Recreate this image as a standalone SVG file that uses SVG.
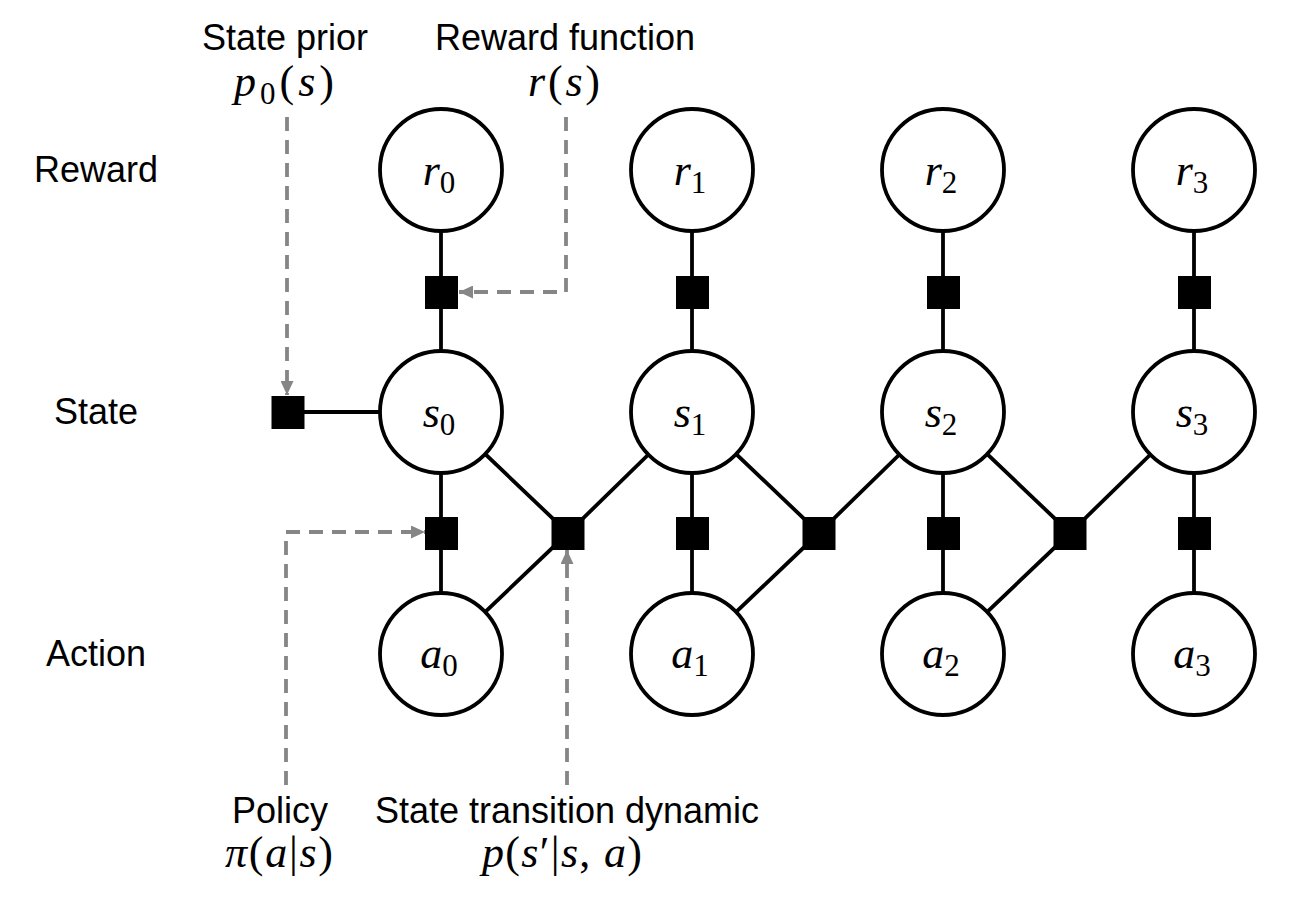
<svg xmlns="http://www.w3.org/2000/svg" width="1302" height="914" viewBox="0 0 1302 914">
<defs>
<style>
.lbl{font-family:"Liberation Sans",Arial,sans-serif;font-size:36px;fill:#000;text-anchor:middle}
.math{font-family:"Liberation Serif","Times New Roman",serif;font-size:44px;fill:#000;text-anchor:middle}
.it{font-style:italic}
.sub{font-size:31px;font-style:normal}
.node{fill:#fff;stroke:#000;stroke-width:3.8}
.factor{fill:#000}
.edge{stroke:#000;stroke-width:3.8;fill:none}
.dash{stroke:#868686;stroke-width:3.8;fill:none;stroke-dasharray:14 9;marker-end:url(#arr)}
</style>
<marker id="arr" markerUnits="userSpaceOnUse" markerWidth="14" markerHeight="13" refX="14" refY="6.5" orient="auto">
<path d="M0,0 L14,6.5 L0,13 z" fill="#868686"/>
</marker>
</defs>
<rect width="1302" height="914" fill="#fff"/>

<g id="row-labels">
<text class="lbl" x="96" y="182">Reward</text>
<text class="lbl" x="96" y="424">State</text>
<text class="lbl" x="96" y="666">Action</text>
</g>

<g id="connectors">
<line class="edge" x1="441" y1="170" x2="441" y2="654"/>
<line class="edge" x1="692" y1="170" x2="692" y2="654"/>
<line class="edge" x1="943" y1="170" x2="943" y2="654"/>
<line class="edge" x1="1194" y1="170" x2="1194" y2="654"/>
<line class="edge" x1="288" y1="412" x2="441" y2="412"/>
<path class="edge" d="M441,412 L568,533 L692,412 M441,654 L568,533"/>
<path class="edge" d="M692,412 L819,533 L943,412 M692,654 L819,533"/>
<path class="edge" d="M943,412 L1070,533 L1194,412 M943,654 L1070,533"/>
<path class="dash" d="M287,117 V395"/>
<path class="dash" d="M566,117 V292 H459"/>
<path class="dash" d="M286,785 V532 H425"/>
<path class="dash" d="M567,785 V550"/>
</g>

<g id="factors">
<rect id="f-prior" class="factor" x="271.5" y="396" width="33" height="33"/>
<rect id="f-r0" class="factor" x="425" y="276" width="33" height="33"/>
<rect id="f-r1" class="factor" x="676" y="276" width="33" height="33"/>
<rect id="f-r2" class="factor" x="927" y="276" width="33" height="33"/>
<rect id="f-r3" class="factor" x="1178" y="276" width="33" height="33"/>
<rect id="f-a0" class="factor" x="425" y="517" width="33" height="33"/>
<rect id="f-a1" class="factor" x="676" y="517" width="33" height="33"/>
<rect id="f-a2" class="factor" x="927" y="517" width="33" height="33"/>
<rect id="f-a3" class="factor" x="1178" y="517" width="33" height="33"/>
<rect id="f-t0" class="factor" x="551.5" y="517" width="33" height="33"/>
<rect id="f-t1" class="factor" x="802.5" y="517" width="33" height="33"/>
<rect id="f-t2" class="factor" x="1053.5" y="517" width="33" height="33"/>
</g>

<g id="node-r0"><circle class="node" cx="441" cy="170" r="61"/><text class="math" x="439" y="185"><tspan class="it">r</tspan><tspan class="sub" dy="8">0</tspan></text></g>
<g id="node-r1"><circle class="node" cx="692" cy="170" r="61"/><text class="math" x="690" y="185"><tspan class="it">r</tspan><tspan class="sub" dy="8">1</tspan></text></g>
<g id="node-r2"><circle class="node" cx="943" cy="170" r="61"/><text class="math" x="941" y="185"><tspan class="it">r</tspan><tspan class="sub" dy="8">2</tspan></text></g>
<g id="node-r3"><circle class="node" cx="1194" cy="170" r="61"/><text class="math" x="1192" y="185"><tspan class="it">r</tspan><tspan class="sub" dy="8">3</tspan></text></g>

<g id="node-s0"><circle class="node" cx="441" cy="412" r="61"/><text class="math" x="439" y="427"><tspan class="it">s</tspan><tspan class="sub" dy="8">0</tspan></text></g>
<g id="node-s1"><circle class="node" cx="692" cy="412" r="61"/><text class="math" x="690" y="427"><tspan class="it">s</tspan><tspan class="sub" dy="8">1</tspan></text></g>
<g id="node-s2"><circle class="node" cx="943" cy="412" r="61"/><text class="math" x="941" y="427"><tspan class="it">s</tspan><tspan class="sub" dy="8">2</tspan></text></g>
<g id="node-s3"><circle class="node" cx="1194" cy="412" r="61"/><text class="math" x="1192" y="427"><tspan class="it">s</tspan><tspan class="sub" dy="8">3</tspan></text></g>

<g id="node-a0"><circle class="node" cx="441" cy="654" r="61"/><text class="math" x="439" y="668"><tspan class="it">a</tspan><tspan class="sub" dy="8">0</tspan></text></g>
<g id="node-a1"><circle class="node" cx="692" cy="654" r="61"/><text class="math" x="690" y="668"><tspan class="it">a</tspan><tspan class="sub" dy="8">1</tspan></text></g>
<g id="node-a2"><circle class="node" cx="943" cy="654" r="61"/><text class="math" x="941" y="668"><tspan class="it">a</tspan><tspan class="sub" dy="8">2</tspan></text></g>
<g id="node-a3"><circle class="node" cx="1194" cy="654" r="61"/><text class="math" x="1192" y="668"><tspan class="it">a</tspan><tspan class="sub" dy="8">3</tspan></text></g>

<g id="label-prior">
<text class="lbl" x="285" y="50">State prior</text>
<text class="math" x="284" y="96" textLength="100" lengthAdjust="spacing"><tspan class="it">p</tspan><tspan class="sub" dy="8">0</tspan><tspan dy="-8">(</tspan><tspan class="it">s</tspan>)</text>
</g>
<g id="label-reward">
<text class="lbl" x="565" y="50">Reward function</text>
<text class="math" x="564" y="96" textLength="72" lengthAdjust="spacing"><tspan class="it">r</tspan>(<tspan class="it">s</tspan>)</text>
</g>
<g id="label-policy">
<text class="lbl" x="280" y="823">Policy</text>
<text class="math" x="279" y="867" textLength="108" lengthAdjust="spacing"><tspan class="it">π</tspan>(<tspan class="it">a</tspan>|<tspan class="it">s</tspan>)</text>
</g>
<g id="label-transition">
<text class="lbl" x="567" y="823">State transition dynamic</text>
<text class="math" x="562" y="867" textLength="160" lengthAdjust="spacing"><tspan class="it">p</tspan>(<tspan class="it">s</tspan>′|<tspan class="it">s</tspan>, <tspan class="it">a</tspan>)</text>
</g>
</svg>
